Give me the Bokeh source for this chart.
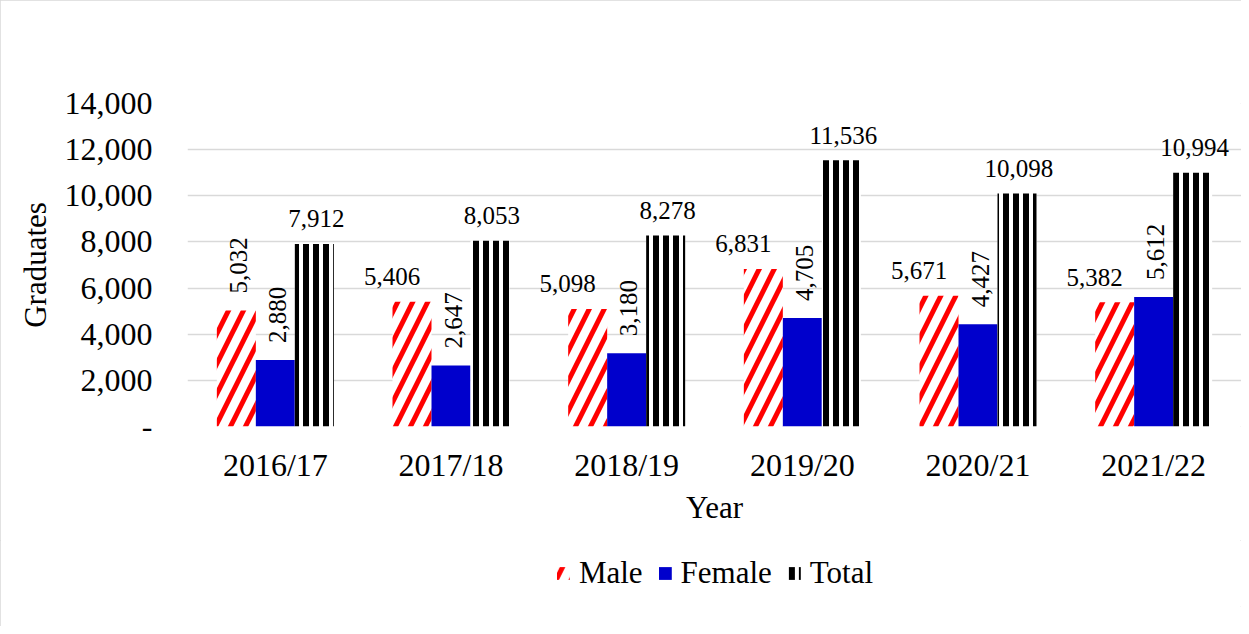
import math
from bokeh.plotting import figure
from bokeh.layouts import column
from bokeh.models import (ColumnDataSource, FactorRange, Range1d, FixedTicker,
                          NumeralTickFormatter, Legend, LegendItem)
from bokeh.transform import dodge
from bokeh.core.properties import value
from bokeh.embed import file_html
from bokeh.resources import INLINE

years = ["2016/17", "2017/18", "2018/19", "2019/20", "2020/21", "2021/22"]
male = [5032, 5406, 5098, 6831, 5671, 5382]
female = [2880, 2647, 3180, 4705, 4427, 5612]
total = [7912, 8053, 8278, 11536, 10098, 10994]
y_ticks = [0, 2000, 4000, 6000, 8000, 10000, 12000, 14000]
series_names = ["Male", "Female", "Total"]

# which data labels are drawn rotated (reading upwards)
male_rot = [True, False, False, False, False, False]
female_rot = [True] * 6
total_rot = [False] * 6

FONT = "Liberation Serif"
MALE_STYLE = dict(fill_color="white", line_color=None, hatch_pattern="/",
                  hatch_color="#ff0000", hatch_scale=30, hatch_weight=5)
FEMALE_STYLE = dict(fill_color="#0000cc", line_color=None)
TOTAL_STYLE = dict(fill_color="white", line_color=None, hatch_pattern="|",
                   hatch_color="black", hatch_scale=10, hatch_weight=6)

src = ColumnDataSource(dict(years=years, male=male, female=female, total=total))

p = figure(x_range=FactorRange(*years, range_padding=0), y_range=Range1d(0, 14000),
           width=1241, height=540, output_backend="svg", toolbar_location=None,
           min_border_left=187, min_border_right=0, min_border_top=103, min_border_bottom=114)
p.outline_line_color = None
p.background_fill_color = "white"
p.border_fill_color = "white"

W = 0.222
p.vbar(x=dodge("years", -W, range=p.x_range), top="male", width=W, source=src, **MALE_STYLE)
p.vbar(x=dodge("years", 0, range=p.x_range), top="female", width=W, source=src, **FEMALE_STYLE)
p.vbar(x=dodge("years", W, range=p.x_range), top="total", width=W, source=src, **TOTAL_STYLE)

def add_labels(vals, rot, off, dx):
    h = dict(x=[], y=[], t=[])
    v = dict(x=[], y=[], t=[])
    for yr, val, r in zip(years, vals, rot):
        d = v if r else h
        d["x"].append(yr)
        d["y"].append(val)
        d["t"].append(f"{val:,}")
    hs = ColumnDataSource(h)
    vs = ColumnDataSource(v)
    p.text(x=dodge("x", off, range=p.x_range), y="y", text="t", source=hs,
           text_font=value(FONT), text_font_size="25px", text_color="black",
           text_align="center", text_baseline="alphabetic", x_offset=dx, y_offset=-25)
    p.text(x=dodge("x", off, range=p.x_range), y="y", text="t", source=vs,
           text_font=value(FONT), text_font_size="25px", text_color="black",
           text_align="left", text_baseline="middle", angle=math.pi / 2,
           x_offset=2, y_offset=-17)

add_labels(male, male_rot, -W, -20)
add_labels(female, female_rot, 0, 0)
add_labels(total, total_rot, W, 2)

# axes
p.yaxis.ticker = FixedTicker(ticks=y_ticks)
p.yaxis.formatter = NumeralTickFormatter(format="0,0")
p.yaxis.major_label_overrides = {0: "-"}
p.yaxis.axis_line_color = None
p.yaxis.major_tick_line_color = None
p.yaxis.minor_tick_line_color = None
p.yaxis.major_label_standoff = 29
p.yaxis.major_label_text_font = FONT
p.yaxis.major_label_text_font_size = "32px"
p.yaxis.major_label_text_color = "black"
p.yaxis.axis_label = "Graduates"
p.yaxis.axis_label_text_font = FONT
p.yaxis.axis_label_text_font_size = "31px"
p.yaxis.axis_label_text_font_style = "normal"
p.yaxis.axis_label_text_color = "black"
p.yaxis.axis_label_standoff = 9

p.xaxis.axis_line_color = None
p.xaxis.major_tick_line_color = None
p.xaxis.minor_tick_line_color = None
p.xaxis.major_label_standoff = 14
p.xaxis.major_label_text_font = FONT
p.xaxis.major_label_text_font_size = "32px"
p.xaxis.major_label_text_color = "black"
p.xaxis.axis_label = "Year"
p.xaxis.axis_label_text_font = FONT
p.xaxis.axis_label_text_font_size = "31px"
p.xaxis.axis_label_text_font_style = "normal"
p.xaxis.axis_label_text_color = "black"
p.xaxis.axis_label_standoff = 4

p.xgrid.grid_line_color = None
p.ygrid.grid_line_color = "#d9d9d9"
p.ygrid.grid_line_width = 1.3

# legend strip below the chart (swatch renderers sit outside the visible range)
lg = figure(width=1241, height=86, output_backend="svg", toolbar_location=None,
            x_range=Range1d(0, 1), y_range=Range1d(0, 1),
            x_axis_type=None, y_axis_type=None,
            min_border_left=187, min_border_right=0, min_border_top=0, min_border_bottom=20)
lg.outline_line_color = None
lg.grid.grid_line_color = None
swatch = ColumnDataSource(dict(x=[5], top=[0]))
rs = [lg.vbar(x="x", top="top", width=0.1, source=swatch, **st)
      for st in (MALE_STYLE, FEMALE_STYLE, TOTAL_STYLE)]
legend = Legend(items=[LegendItem(label=n, renderers=[r]) for n, r in zip(series_names, rs)],
                orientation="horizontal", location="center",
                label_text_font=FONT, label_text_font_size="31px", label_text_color="black",
                glyph_width=16, glyph_height=16, label_standoff=8, spacing=14,
                border_line_color=None, background_fill_alpha=0, padding=4, margin=0)
lg.add_layout(legend)

layout = column(p, lg, spacing=0)
layout.styles = {"outline": "1px solid #d9d9d9", "outline-offset": "-1px"}
open("out.html", "w").write(file_html(layout, INLINE))
